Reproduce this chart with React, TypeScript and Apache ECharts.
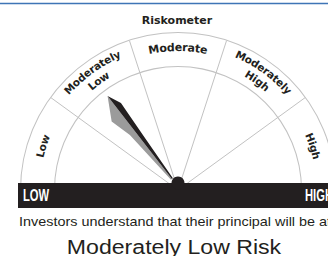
import React, { useEffect, useRef } from 'react';
import * as echarts from 'echarts';

// ---- data ----
const chartTitle = 'Riskometer';
const riskLevels = ['Low', 'Moderately\nLow', 'Moderate', 'Moderately\nHigh', 'High'];
const scaleMin = 0;
const scaleMax = 100;
const needleValue = [29];
const endLabels = ['LOW', 'HIGH'];
const caption = 'Investors understand that their principal will be at Moderately Low risk';
const riskText = 'Moderately Low Risk';

// ---- layout / style ----
const W = 328;
const H = 256;
const CX = 178;
const CY = 190;
const R_OUT = 158;
const R_IN = 124;
const PIVOT = [175, 183];
const BAR_TOP = 183;
const BAR_H = 25;
const BAR_HALF = 160;
const INK = '#231f20';
const RULE = '#c2c2c2';
const LABEL_FONT = '"DejaVu Sans"';

const needleBlack =
  'path://M-13 0 M13 -110 M0 -110 L6.3 -96.3 L4 -57.5 L1.2 -5 L0 -5 Z';
const needleGray =
  'path://M-13 0 M13 -110 M0 -110 L0 -5 L-1.2 -5 L-6.3 -65.5 L-12.3 -87.5 Z';

let measureCtx: CanvasRenderingContext2D | null = null;
function measure(t: string, size: number, weight: string, family: string) {
  if (!measureCtx) measureCtx = document.createElement('canvas').getContext('2d');
  if (!measureCtx) return size * 0.6 * t.length;
  measureCtx.font = `${weight} ${size}px ${family}`;
  return measureCtx.measureText(t).width;
}

function arcText(text: string, thetaDeg: number, r: number, size: number) {
  const chars = Array.from(text);
  const widths = chars.map((c) => measure(c, size, 'bold', LABEL_FONT));
  const total = widths.reduce((a, b) => a + b, 0);
  const th0 = (thetaDeg * Math.PI) / 180 + total / 2 / r;
  let s = 0;
  return chars.map((c, i) => {
    const mid = s + widths[i] / 2;
    s += widths[i];
    const th = th0 - mid / r;
    return {
      type: 'text',
      x: CX + r * Math.cos(th),
      y: CY - r * Math.sin(th),
      rotation: th - Math.PI / 2,
      z: 12,
      style: {
        text: c,
        fontSize: size,
        fontWeight: 'bold',
        fontFamily: LABEL_FONT,
        fill: INK,
        align: 'center',
        verticalAlign: 'middle',
      },
    };
  });
}

function buildLabels() {
  const out: any[] = [];
  const n = riskLevels.length;
  riskLevels.forEach((lab, i) => {
    const th = 180 - ((i + 0.5) * 180) / n;
    const lines = lab.split('\n');
    if (lines.length === 1) {
      out.push(...arcText(lines[0], th, 142.5, lab === 'Moderate' ? 11 : 10.5));
    } else {
      out.push(...arcText(lines[0], th, 148.5, 10.5));
      out.push(...arcText(lines[1], th, 135.5, 10.5));
    }
  });
  return out;
}

function needleSeries(icon: string, color: string) {
  return {
    type: 'gauge',
    center: PIVOT,
    radius: 110,
    startAngle: 180,
    endAngle: 0,
    min: scaleMin,
    max: scaleMax,
    z: 5,
    axisLine: { show: false },
    splitLine: { show: false },
    axisTick: { show: false },
    axisLabel: { show: false },
    anchor: { show: false },
    title: { show: false },
    detail: { show: false },
    pointer: {
      show: true,
      icon,
      length: 110,
      width: 26,
      keepAspect: false,
      itemStyle: { color },
    },
    data: needleValue.map((v) => ({ value: v })),
  };
}

export default function App() {
  const ref = useRef<HTMLDivElement>(null);
  useEffect(() => {
    if (!ref.current) return;
    const chart = echarts.init(ref.current, null, { renderer: 'svg' });
    const option: any = {
      animation: false,
      backgroundColor: '#ffffff',
      series: [
        {
          type: 'gauge',
          center: [CX, CY],
          radius: R_OUT,
          startAngle: 180,
          endAngle: 0,
          min: scaleMin,
          max: scaleMax,
          splitNumber: riskLevels.length,
          axisLine: { lineStyle: { width: 1, color: [[1, RULE]] } },
          splitLine: { show: true, distance: 0, length: R_OUT - 1, lineStyle: { color: RULE, width: 1 } },
          axisTick: { show: false },
          axisLabel: { show: false },
          pointer: { show: false },
          anchor: { show: false },
          title: { show: false },
          detail: { show: false },
          data: [{ value: scaleMin }],
        },
        {
          type: 'gauge',
          center: [CX, CY],
          radius: R_IN,
          startAngle: 180,
          endAngle: 0,
          min: scaleMin,
          max: scaleMax,
          axisLine: { lineStyle: { width: 1, color: [[1, RULE]] } },
          splitLine: { show: false },
          axisTick: { show: false },
          axisLabel: { show: false },
          pointer: { show: false },
          anchor: { show: false },
          title: { show: false },
          detail: { show: false },
          data: [{ value: scaleMin }],
        },
        needleSeries(needleGray, '#9b9b9b'),
        needleSeries(needleBlack, INK),
      ],
      graphic: [
        {
          type: 'line',
          z: 12,
          shape: { x1: 0, y1: 3.5, x2: W, y2: 3.5 },
          style: { stroke: '#3f75b6', lineWidth: 1.5 },
        },
        {
          type: 'text',
          x: CX - 1,
          y: 20,
          z: 12,
          style: {
            text: chartTitle,
            fontSize: 11,
            fontWeight: 'bold',
            fontFamily: LABEL_FONT,
            fill: INK,
            align: 'center',
            verticalAlign: 'middle',
          },
        },
        ...buildLabels(),
        {
          type: 'rect',
          z: 10,
          shape: { x: CX - BAR_HALF, y: BAR_TOP, width: BAR_HALF * 2, height: BAR_H },
          style: { fill: INK },
        },
        {
          type: 'circle',
          z: 11,
          shape: { cx: CX, cy: BAR_TOP, r: 6.5 },
          style: { fill: INK },
        },
        {
          type: 'text',
          x: CX - BAR_HALF + 5,
          y: BAR_TOP + 12,
          scaleX: 0.66,
          z: 12,
          style: {
            text: endLabels[0],
            fontSize: 17,
            fontWeight: 'bold',
            fontFamily: '"Liberation Sans"',
            fill: '#ffffff',
            align: 'left',
            verticalAlign: 'middle',
          },
        },
        {
          type: 'text',
          x: CX + BAR_HALF - 5,
          y: BAR_TOP + 12,
          scaleX: 0.66,
          z: 12,
          style: {
            text: endLabels[1],
            fontSize: 17,
            fontWeight: 'bold',
            fontFamily: '"Liberation Sans"',
            fill: '#ffffff',
            align: 'right',
            verticalAlign: 'middle',
          },
        },
        {
          type: 'text',
          x: 19,
          y: 221.5,
          scaleX: 1.2,
          z: 12,
          style: {
            text: caption,
            fontSize: 12,
            fontFamily: '"Liberation Sans"',
            fill: INK,
            align: 'left',
            verticalAlign: 'middle',
          },
        },
        {
          type: 'text',
          x: 174,
          y: 247,
          scaleX: 1.1,
          z: 12,
          style: {
            text: riskText,
            fontSize: 21,
            fontFamily: '"Liberation Sans"',
            fill: INK,
            align: 'center',
            verticalAlign: 'middle',
          },
        },
      ],
    };
    chart.setOption(option);
    return () => chart.dispose();
  }, []);
  return (
    <div
      ref={ref}
      style={{ position: 'absolute', left: 0, top: 0, width: W, height: H, background: '#fff' }}
    />
  );
}
